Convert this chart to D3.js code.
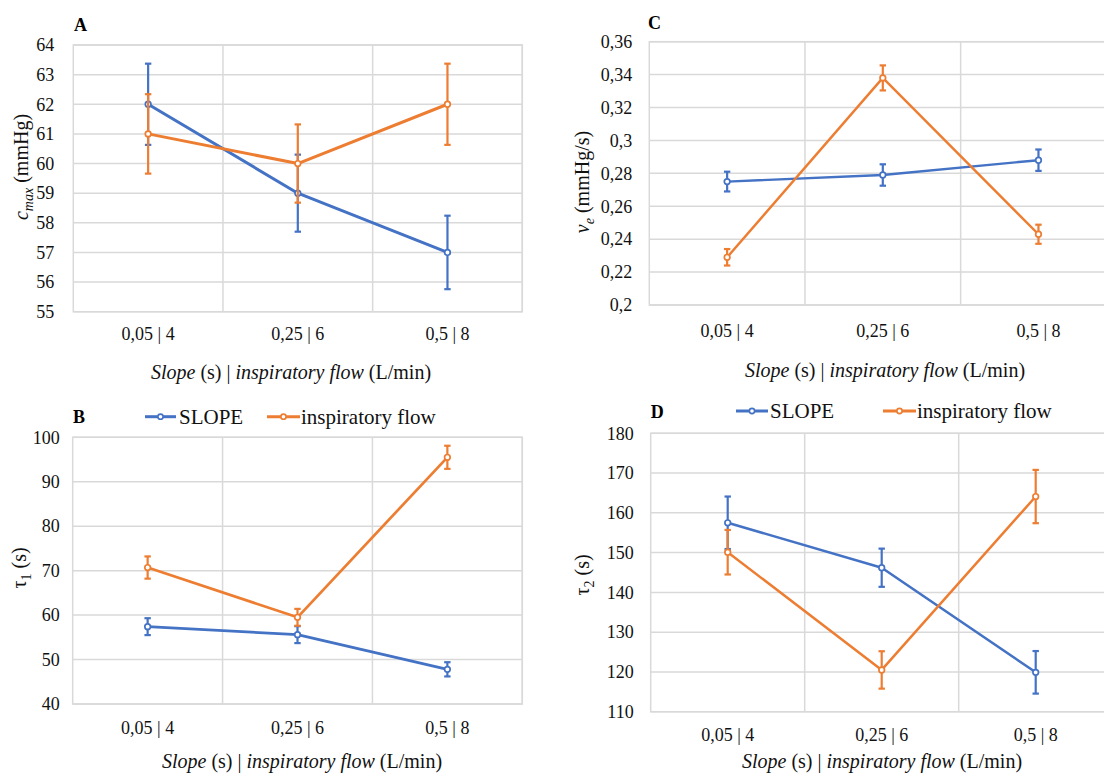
<!DOCTYPE html>
<html>
<head>
<meta charset="utf-8">
<script src="https://cdn.jsdelivr.net/npm/d3@7"></script>
<style>
  body { margin: 0; background: white; }
  svg { display: block; font-family: "Liberation Serif", "Times New Roman", serif; }
</style>
</head>
<body>
<svg id="chart" width="1104" height="775"></svg>
<script>
// categories on the x axis (slope s | inspiratory flow L/min)
const categories = ["0,05 | 4", "0,25 | 6", "0,5 | 8"]
const seriesNames = ["SLOPE", "inspiratory flow"]

// A - c_max (mmHg)
const cmaxTicks = [55, 56, 57, 58, 59, 60, 61, 62, 63, 64]
const cmaxSlope = [62, 59, 57]
const cmaxSlopeErr = [1.37, 1.3, 1.24]
const cmaxFlow = [61, 60, 62]
const cmaxFlowErr = [1.34, 1.32, 1.37]

// C - v_e (mmHg/s)
const veTicks = [0.2, 0.22, 0.24, 0.26, 0.28, 0.3, 0.32, 0.34, 0.36]
const veSlope = [0.275, 0.279, 0.288]
const veSlopeErr = [0.006, 0.0065, 0.0065]
const veFlow = [0.229, 0.338, 0.243]
const veFlowErr = [0.005, 0.0076, 0.0058]

// B - tau1 (s)
const tau1Ticks = [40, 50, 60, 70, 80, 90, 100]
const tau1Slope = [57.4, 55.6, 47.8]
const tau1SlopeErr = [1.9, 1.9, 1.6]
const tau1Flow = [70.7, 59.5, 95.5]
const tau1FlowErr = [2.5, 1.9, 2.6]

// D - tau2 (s)
const tau2Ticks = [110, 120, 130, 140, 150, 160, 170, 180]
const tau2Slope = [157.5, 146.2, 119.9]
const tau2SlopeErr = [6.6, 4.8, 5.35]
const tau2Flow = [150.1, 120.5, 164.1]
const tau2FlowErr = [5.6, 4.7, 6.7]

const blue = "#4472C4"
const orange = "#ED7D31"
const gridColor = "#d9d9d9"
const ink = "#111"

const svg = d3.select("#chart")

// layout of the four panels (positions only)
const panels = [
    {
        letter: "A", x: 73.3, y: 45, w: 449, h: 266.7, lw: 3,
        ticks: cmaxTicks, series: [[cmaxSlope, cmaxSlopeErr], [cmaxFlow, cmaxFlowErr]],
        yTitle: [{ t: "c", i: true }, { t: "max", i: true, sub: true }, { t: " (mmHg)" }],
        tickGap: 19, yTitleX: 21, yTitleY: 167, tickBase: 340, titleX: 291, titleBase: 379,
        letterX: 74, letterBase: 31, legend: null
    },
    {
        letter: "C", x: 649.3, y: 41.7, w: 467, h: 263.3, lw: 2.4,
        ticks: veTicks, series: [[veSlope, veSlopeErr], [veFlow, veFlowErr]],
        yTitle: [{ t: "v", i: true }, { t: "e", i: true, sub: true }, { t: " (mmHg/s)" }],
        tickGap: 17, yTitleX: 582, yTitleY: 182, tickBase: 337, titleX: 885, titleBase: 377,
        letterX: 648, letterBase: 28.5, legend: null
    },
    {
        letter: "B", x: 72.7, y: 437.3, w: 449.6, h: 266.7, lw: 2.7,
        ticks: tau1Ticks, series: [[tau1Slope, tau1SlopeErr], [tau1Flow, tau1FlowErr]],
        yTitle: [{ t: "τ" }, { t: "1", sub: true }, { t: " (s)" }],
        tickGap: 13, yTitleX: 19, yTitleY: 568, tickBase: 734, titleX: 302, titleBase: 768,
        letterX: 73, letterBase: 423,
        legend: { cy: 416.7, items: [{ x1: 145, x2: 176, tx: 179 }, { x1: 267, x2: 300, tx: 301 }] }
    },
    {
        letter: "D", x: 650.7, y: 433.3, w: 462, h: 278.4, lw: 2.5,
        ticks: tau2Ticks, series: [[tau2Slope, tau2SlopeErr], [tau2Flow, tau2FlowErr]],
        yTitle: [{ t: "τ" }, { t: "2", sub: true }, { t: " (s)" }],
        tickGap: 17, yTitleX: 582, yTitleY: 575, tickBase: 741, titleX: 882, titleBase: 768,
        letterX: 650.7, letterBase: 418,
        legend: { cy: 411, items: [{ x1: 736, x2: 768, tx: 770 }, { x1: 883, x2: 916, tx: 917 }] }
    }
]

const fmt = v => String(v).replace(".", ",")

function drawPanel(p) {
    const g = svg.append("g").attr("transform", `translate(${p.x},${p.y})`)

    const x = d3.scaleBand().domain(categories).range([0, p.w])
    const y = d3.scaleLinear().domain(d3.extent(p.ticks)).range([p.h, 0])

    // horizontal gridlines
    g.append("g")
        .selectAll("line")
        .data(p.ticks)
        .join("line")
        .attr("x1", 0).attr("x2", p.w)
        .attr("y1", d => y(d)).attr("y2", d => y(d))
        .attr("stroke", gridColor).attr("stroke-width", 1.5)

    // vertical gridlines between categories + frame
    g.append("g")
        .selectAll("line")
        .data(categories)
        .join("line")
        .attr("x1", d => x(d) + x.step()).attr("x2", d => x(d) + x.step())
        .attr("y1", 0).attr("y2", p.h)
        .attr("stroke", gridColor).attr("stroke-width", 1.5)
    g.append("rect")
        .attr("width", p.w).attr("height", p.h)
        .attr("fill", "none").attr("stroke", gridColor).attr("stroke-width", 1.5)

    // y tick labels
    const yAxis = g.append("g")
        .call(d3.axisLeft(y).tickValues(p.ticks).tickFormat(fmt).tickSize(0).tickPadding(p.tickGap))
        .attr("font-family", null)
    yAxis.select(".domain").remove()
    yAxis.selectAll("text")
        .attr("font-size", 18)
        .attr("fill", ink)

    // x tick labels
    g.append("g")
        .selectAll("text")
        .data(categories)
        .join("text")
        .attr("x", d => x(d) + x.bandwidth() / 2)
        .attr("y", p.tickBase - p.y)
        .attr("text-anchor", "middle")
        .attr("font-size", 18)
        .attr("fill", ink)
        .text(d => d)

    // series: line, error bars, markers
    const colors = [blue, orange]
    p.series.forEach(([vals, errs], si) => {
        const pts = vals.map((v, i) => ({ c: categories[i], v: v, e: errs[i] }))
        const cx = d => x(d.c) + x.bandwidth() / 2

        g.append("path")
            .datum(pts)
            .attr("fill", "none")
            .attr("stroke", colors[si])
            .attr("stroke-width", p.lw)
            .attr("stroke-linejoin", "round")
            .attr("d", d3.line().x(cx).y(d => y(d.v)))

        const eb = g.append("g").attr("stroke", colors[si]).attr("stroke-width", 2.2)
        eb.selectAll(".stem")
            .data(pts).join("line")
            .attr("x1", cx).attr("x2", cx)
            .attr("y1", d => y(d.v + d.e)).attr("y2", d => y(d.v - d.e))
        eb.selectAll(".capTop")
            .data(pts).join("line")
            .attr("x1", d => cx(d) - 3.2).attr("x2", d => cx(d) + 3.2)
            .attr("y1", d => y(d.v + d.e)).attr("y2", d => y(d.v + d.e))
        eb.selectAll(".capBot")
            .data(pts).join("line")
            .attr("x1", d => cx(d) - 3.2).attr("x2", d => cx(d) + 3.2)
            .attr("y1", d => y(d.v - d.e)).attr("y2", d => y(d.v - d.e))

        g.append("g")
            .selectAll("circle")
            .data(pts).join("circle")
            .attr("cx", cx).attr("cy", d => y(d.v))
            .attr("r", 2.8)
            .attr("fill", "white")
            .attr("stroke", colors[si])
            .attr("stroke-width", 1.7)
    })

    // panel letter
    svg.append("text")
        .attr("x", p.letterX).attr("y", p.letterBase)
        .attr("font-size", 18).attr("font-weight", "bold")
        .attr("fill", "#000")
        .text(p.letter)

    // y axis title (rotated)
    const yt = svg.append("text")
        .attr("transform", `translate(${p.yTitleX},${p.yTitleY}) rotate(-90)`)
        .attr("text-anchor", "middle")
        .attr("dy", "0.35em")
        .attr("font-size", 20)
        .attr("fill", ink)
    p.yTitle.forEach((part, i) => {
        const prevSub = i > 0 && p.yTitle[i - 1].sub
        yt.append("tspan")
            .attr("font-style", part.i ? "italic" : "normal")
            .attr("font-size", part.sub ? 14 : 20)
            .attr("dy", part.sub ? 5 : (prevSub ? -5 : null))
            .text(part.t)
    })

    // x axis title
    const xt = svg.append("text")
        .attr("x", p.titleX).attr("y", p.titleBase)
        .attr("text-anchor", "middle")
        .attr("font-size", 20)
        .attr("fill", ink)
    xt.append("tspan").attr("font-style", "italic").text("Slope")
    xt.append("tspan").text(" (s) | ")
    xt.append("tspan").attr("font-style", "italic").text("inspiratory flow")
    xt.append("tspan").text(" (L/min)")

    // legend (bottom panels only)
    if (p.legend) {
        p.legend.items.forEach((it, i) => {
            svg.append("line")
                .attr("x1", it.x1).attr("x2", it.x2)
                .attr("y1", p.legend.cy).attr("y2", p.legend.cy)
                .attr("stroke", colors[i]).attr("stroke-width", 3)
            svg.append("circle")
                .attr("cx", (it.x1 + it.x2) / 2).attr("cy", p.legend.cy)
                .attr("r", 2.6).attr("fill", "white")
                .attr("stroke", colors[i]).attr("stroke-width", 1.6)
            svg.append("text")
                .attr("x", it.tx).attr("y", p.legend.cy + 7)
                .attr("font-size", 21)
                .attr("fill", ink)
                .text(seriesNames[i])
        })
    }
}

panels.forEach(drawPanel)
</script>
</body>
</html>
